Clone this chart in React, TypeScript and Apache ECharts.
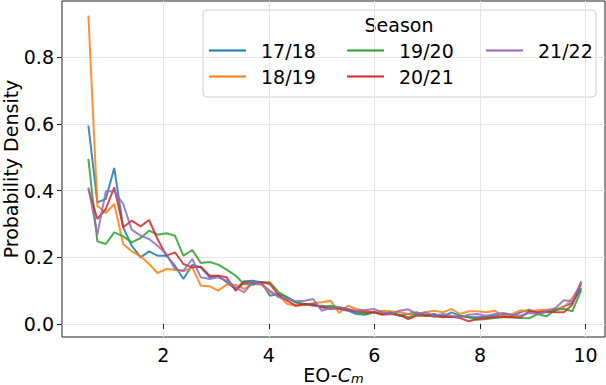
import React, { useEffect, useRef } from "react";
import * as echarts from "echarts";

const xValues = [
  0.58, 0.75, 0.91, 1.07, 1.24, 1.4, 1.57, 1.73, 1.89, 2.06, 2.22, 2.38, 2.55, 2.71, 2.88,
  3.04, 3.2, 3.37, 3.53, 3.69, 3.86, 4.02, 4.19, 4.35, 4.51, 4.68, 4.84, 5.0, 5.17, 5.33,
  5.5, 5.66, 5.82, 5.99, 6.15, 6.31, 6.48, 6.64, 6.81, 6.97, 7.13, 7.3, 7.46, 7.62, 7.79,
  7.95, 8.12, 8.28, 8.44, 8.61, 8.77, 8.93, 9.1, 9.26, 9.43, 9.59, 9.75, 9.92,
];

const s1718 = [
  0.595, 0.365, 0.375, 0.468, 0.29, 0.235, 0.2, 0.218, 0.205, 0.205, 0.175, 0.135, 0.178, 0.17, 0.14,
  0.145, 0.125, 0.105, 0.128, 0.13, 0.125, 0.085, 0.09, 0.08, 0.065, 0.06, 0.055, 0.055, 0.05, 0.045,
  0.04, 0.03, 0.028, 0.035, 0.03, 0.033, 0.025, 0.03, 0.035, 0.025, 0.03, 0.022, 0.035, 0.025, 0.02,
  0.02, 0.022, 0.025, 0.03, 0.025, 0.035, 0.043, 0.033, 0.035, 0.04, 0.053, 0.063, 0.108,
];
const s1819 = [
  0.925, 0.355, 0.333, 0.36, 0.24, 0.218, 0.203, 0.18, 0.153, 0.165, 0.163, 0.158, 0.17, 0.115, 0.113,
  0.1, 0.118, 0.118, 0.105, 0.12, 0.118, 0.095, 0.085, 0.06, 0.055, 0.058, 0.062, 0.065, 0.07, 0.033,
  0.055, 0.045, 0.04, 0.035, 0.04, 0.038, 0.035, 0.03, 0.03, 0.035, 0.04, 0.035, 0.045, 0.03, 0.038,
  0.038, 0.035, 0.04, 0.023, 0.03, 0.041, 0.038, 0.041, 0.043, 0.045, 0.05, 0.078, 0.118,
];
const s1920 = [
  0.495, 0.248, 0.24, 0.275, 0.263, 0.245, 0.258, 0.28, 0.268, 0.272, 0.265, 0.205, 0.222, 0.183, 0.186,
  0.178, 0.163, 0.145, 0.12, 0.118, 0.125, 0.125, 0.095, 0.08, 0.065, 0.058, 0.06, 0.05, 0.055, 0.05,
  0.045, 0.035, 0.03, 0.035, 0.03, 0.035, 0.025, 0.02, 0.03, 0.028, 0.022, 0.025, 0.02, 0.025, 0.02,
  0.013, 0.015, 0.018, 0.02, 0.02, 0.018, 0.017, 0.03, 0.023, 0.043, 0.045, 0.038, 0.102,
];
const s2021 = [
  0.405, 0.315, 0.345, 0.41, 0.29, 0.31, 0.293, 0.312, 0.255, 0.205, 0.215, 0.18, 0.17, 0.172, 0.145,
  0.145, 0.14, 0.1, 0.125, 0.123, 0.125, 0.12, 0.085, 0.07, 0.055, 0.06, 0.058, 0.05, 0.045, 0.048,
  0.042, 0.038, 0.035, 0.035, 0.028, 0.03, 0.028, 0.015, 0.025, 0.025, 0.025, 0.02, 0.022, 0.018, 0.008,
  0.015, 0.018, 0.02, 0.022, 0.02, 0.02, 0.038, 0.035, 0.038, 0.035, 0.035, 0.058, 0.125,
];
const s2122 = [
  0.41, 0.268, 0.398, 0.398, 0.36, 0.283, 0.265, 0.255, 0.235, 0.21, 0.165, 0.16, 0.195, 0.14, 0.135,
  0.14, 0.13, 0.11, 0.095, 0.125, 0.12, 0.1, 0.08, 0.075, 0.068, 0.07, 0.075, 0.04, 0.048, 0.05,
  0.045, 0.04, 0.042, 0.045, 0.035, 0.03, 0.04, 0.044, 0.03, 0.035, 0.025, 0.03, 0.025, 0.02, 0.028,
  0.03, 0.025, 0.03, 0.033, 0.028, 0.025, 0.033, 0.03, 0.038, 0.048, 0.071, 0.068, 0.128,
];

const seasonNames = ["17/18", "18/19", "19/20", "20/21", "21/22"];
const seasonValues = [s1718, s1819, s1920, s2021, s2122];
const seasonColors = ["#1f77b4", "#ff7f0e", "#2ca02c", "#d62728", "#9467bd"];
const xTicks = [2, 4, 6, 8, 10];
const yTicks = [0, 0.2, 0.4, 0.6, 0.8];

const FONT = "DejaVu Sans";
const FS = 19;

export default function App() {
  const ref = useRef<HTMLDivElement>(null);
  useEffect(() => {
    document.body.style.margin = "0";
    if (!ref.current) return;
    const chart = echarts.init(ref.current, null, { renderer: "svg" });
    const legendBase = {
      orient: "vertical" as const,
      icon: "rect",
      itemWidth: 37,
      itemHeight: 2,
      itemGap: 7,
      top: 36,
      padding: 5,
      selectedMode: false,
      formatter: "{t|{name}}",
      textStyle: {
        fontFamily: FONT,
        fontSize: FS,
        color: "#000",
        rich: {
          t: {
            fontFamily: FONT,
            fontSize: FS,
            color: "#000",
            lineHeight: 20,
            padding: [0, 0, 0, 10],
          },
        },
      },
    };
    chart.setOption({
      animation: false,
      backgroundColor: "#fff",
      textStyle: { fontFamily: FONT },
      grid: {
        left: 62,
        right: 1,
        top: 1,
        bottom: 48,
        outerBoundsMode: "none",
        containLabel: false,
        show: true,
        borderColor: "#222",
        borderWidth: 1,
        backgroundColor: "transparent",
      },
      xAxis: {
        type: "value",
        min: 0.08,
        max: 10.37,
        name: "EO-{i|C}{s|m}",
        nameLocation: "middle",
        nameGap: 28,
        nameMoveOverlap: false,
        nameTextStyle: {
          fontFamily: FONT,
          fontSize: FS,
          color: "#000",
          rich: {
            i: { fontFamily: FONT, fontSize: FS, fontStyle: "italic", color: "#000" },
            s: {
              fontFamily: FONT,
              fontSize: 13,
              fontStyle: "italic",
              color: "#000",
              verticalAlign: "bottom",
              padding: [7, 0, 0, 0],
            },
          },
        },
        axisLine: { show: false },
        axisTick: {
          show: true,
          length: 5,
          lineStyle: { color: "#222" },
          customValues: xTicks,
        },
        axisLabel: {
          customValues: xTicks,
          fontFamily: FONT,
          fontSize: FS,
          color: "#000",
          margin: 8,
        },
        splitLine: { show: true, lineStyle: { color: "#e6e6e6", width: 1 } },
      },
      yAxis: {
        type: "value",
        min: -0.039,
        max: 0.969,
        name: "Probability Density",
        nameLocation: "middle",
        nameGap: 42,
        nameMoveOverlap: false,
        nameTextStyle: { fontFamily: FONT, fontSize: FS, color: "#000" },
        axisLine: { show: false },
        axisTick: {
          show: true,
          length: 5,
          lineStyle: { color: "#222" },
          customValues: yTicks,
        },
        axisLabel: {
          customValues: yTicks,
          fontFamily: FONT,
          fontSize: FS,
          color: "#000",
          margin: 8,
          formatter: (v: number) => v.toFixed(1),
        },
        splitLine: { show: true, lineStyle: { color: "#e6e6e6", width: 1 } },
      },
      legend: [
        { ...legendBase, left: 204, data: [seasonNames[0], seasonNames[1]] },
        { ...legendBase, left: 342, data: [seasonNames[2], seasonNames[3]] },
        { ...legendBase, left: 481, data: [seasonNames[4]] },
      ],
      graphic: [
        {
          type: "rect",
          z: 0,
          zlevel: 0,
          shape: { x: 203, y: 10, width: 393, height: 87, r: 4 },
          style: { fill: "rgba(255,255,255,0.8)", stroke: "#d0d0d0", lineWidth: 1 },
        },
        {
          type: "text",
          x: 399,
          y: 25,
          style: {
            text: "Season",
            fontFamily: FONT,
            fontSize: FS,
            fill: "#000",
            textAlign: "center",
            textVerticalAlign: "middle",
          },
        },
      ],
      series: seasonNames.map((name, k) => ({
        name,
        type: "line",
        symbol: "none",
        color: seasonColors[k],
        lineStyle: { width: 2, opacity: 0.85, color: seasonColors[k] },
        data: xValues.map((x, i) => [x, seasonValues[k][i]]),
      })),
    });
    return () => chart.dispose();
  }, []);
  return <div ref={ref} style={{ width: 606, height: 385 }} />;
}
